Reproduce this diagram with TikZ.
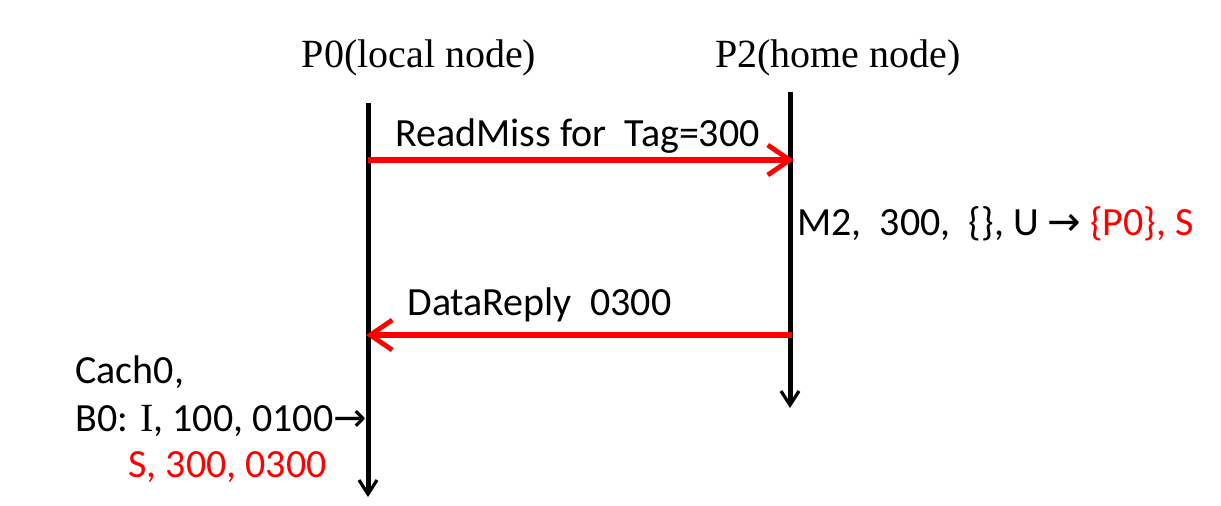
\documentclass[tikz,border=0pt]{standalone}
\usepackage{fontspec}
\setmainfont{Carlito}
\newfontfamily\timesf{Liberation Serif}
\newfontfamily\arrowf{DejaVu Sans}
\usetikzlibrary{arrows.meta}
\definecolor{msgred}{RGB}{255,0,0}
\begin{document}
\begin{tikzpicture}[x=0.5pt,y=-0.5pt,
  lifeline/.style={line width=2.5pt, -{Straight Barb[length=7pt,width=9pt,line width=1.6pt]}},
  msg/.style={line width=2.7pt, msgred, -{Straight Barb[length=11pt,width=15pt,line width=2.4pt]}},
  lbl/.style={font=\fontsize{20pt}{24pt}\selectfont, inner sep=0pt, anchor=base west},
  ttl/.style={font=\timesf\fontsize{20pt}{24pt}\selectfont, inner sep=0pt, anchor=base}]
\useasboundingbox (0,0) rectangle (1221,505);
% lifelines
\coordinate (p0top) at (368,103);
\coordinate (p0bot) at (368,497);
\coordinate (p2top) at (790,92);
\coordinate (p2bot) at (790,408);
\draw[lifeline] (p0top) -- (p0bot);
\draw[lifeline] (p2top) -- (p2bot);
% titles
\node[ttl] (t0) at (419,67) {P0(local node)};
\node[ttl] (t2) at (838,67) {P2(home node)};
% messages
\coordinate (rms) at (368,160);
\coordinate (rme) at (794,160);
\draw[msg] (rms) -- (rme);
\node[lbl] (rmlbl) at (395,146) {ReadMiss for~~Tag=300};
\coordinate (drs) at (792,335);
\coordinate (dre) at (366,335);
\draw[msg] (drs) -- (dre);
\node[lbl] (drlbl) at (407,315) {DataReply~~0300};
% directory state
\node[lbl] (dir) at (797,235) {M2,~~300,~~\{\}, U {\arrowf →} \textcolor{msgred}{\{P0\}, S}};
% cache state
\node[lbl] (c1) at (75,383) {Cach0,};
\node[lbl] (c2) at (75,431) {B0: {\timesf I}, 100, 0100{\arrowf →}};
\node[lbl, text=msgred] (c3) at (128,477) {S, 300, 0300};
\end{tikzpicture}
\end{document}
